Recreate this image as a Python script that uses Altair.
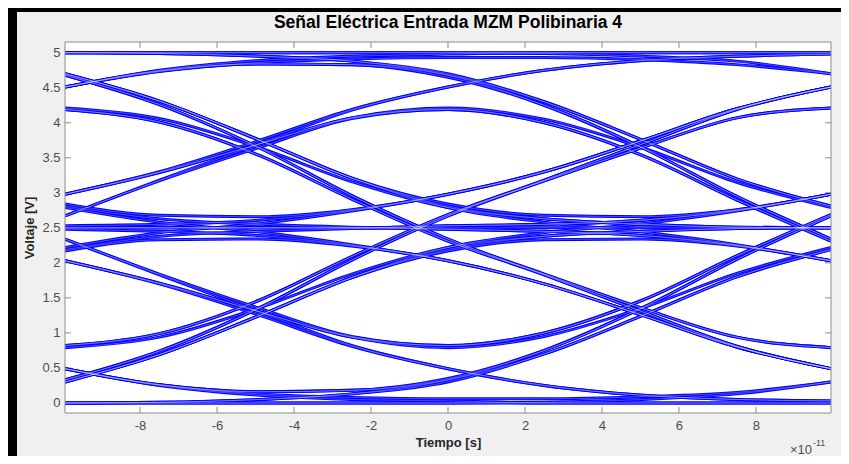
import altair as alt
import pandas as pd

# ---- data ----
title_text = "Señal Eléctrica Entrada MZM Polibinaria 4"
x_title = "Tiempo [s]"
y_title = "Voltaje [V]"
x_ticks = [-8, -6, -4, -2, 0, 2, 4, 6, 8]
y_ticks = [0, 0.5, 1, 1.5, 2, 2.5, 3, 3.5, 4, 4.5, 5]

# time points (x 1e-11 s) at which each trace was read
t_pts = [-9.95, -7.5, -4.89, -2.5, 0, 2.5, 5.06, 7.5, 9.95]

# eye-diagram traces (voltage at each time point)
traces = {
    "b01": [0.00, 0.00, 0.00, 0.00, 0.00, 0.00, 0.00, 0.00, 0.00],
    "b02": [5.00, 5.00, 5.00, 5.00, 5.00, 5.00, 5.00, 5.00, 5.00],
    "b03": [2.50, 2.50, 2.50, 2.50, 2.50, 2.50, 2.50, 2.50, 2.50],
    "b04": [0.00, 0.01, 0.05, 0.13, 0.30, 0.70, 1.25, 1.80, 2.19],
    "b05": [0.00, 0.01, 0.05, 0.13, 0.33, 0.75, 1.36, 2.05, 2.67],
    "b06": [0.30, 0.69, 1.25, 1.79, 2.19, 2.38, 2.45, 2.49, 2.50],
    "b07": [0.30, 0.69, 1.25, 1.79, 2.17, 2.33, 2.34, 2.24, 2.03],
    "b08": [0.30, 0.69, 1.25, 1.79, 2.22, 2.43, 2.56, 2.74, 2.98],
    "b09": [0.33, 0.74, 1.36, 2.04, 2.67, 3.18, 3.70, 4.19, 4.51],
    "b10": [0.82, 0.99, 1.47, 2.09, 2.69, 3.18, 3.70, 4.19, 4.51],
    "b11": [0.79, 0.94, 1.36, 1.84, 2.22, 2.38, 2.45, 2.49, 2.50],
    "b12": [0.49, 0.25, 0.11, 0.05, 0.03, 0.00, 0.00, 0.00, 0.00],
    "b13": [0.49, 0.26, 0.13, 0.08, 0.06, 0.06, 0.09, 0.15, 0.30],
    "b14": [0.00, 0.00, 0.00, 0.00, 0.00, 0.01, 0.05, 0.13, 0.30],
    "b15": [0.49, 0.26, 0.16, 0.18, 0.35, 0.75, 1.36, 2.05, 2.67],
    "b16": [0.49, 0.26, 0.16, 0.18, 0.33, 0.70, 1.25, 1.80, 2.19],
    "b17": [2.03, 1.70, 1.25, 0.81, 0.49, 0.25, 0.11, 0.05, 0.03],
    "b18": [2.34, 1.83, 1.30, 0.82, 0.49, 0.25, 0.11, 0.05, 0.03],
    "b19": [2.03, 1.71, 1.30, 0.94, 0.79, 0.95, 1.36, 1.85, 2.22],
    "b20": [2.34, 1.84, 1.35, 0.95, 0.82, 1.00, 1.47, 2.10, 2.69],
    "b21": [2.48, 2.45, 2.39, 2.25, 2.03, 1.70, 1.25, 0.80, 0.49],
    "b22": [2.17, 2.33, 2.34, 2.24, 2.03, 1.70, 1.25, 0.80, 0.49],
    "b23": [2.79, 2.58, 2.44, 2.26, 2.03, 1.70, 1.25, 0.80, 0.49],
    "b24": [2.50, 2.50, 2.50, 2.50, 2.53, 2.55, 2.61, 2.75, 2.98],
    "b25": [2.50, 2.50, 2.50, 2.50, 2.48, 2.45, 2.39, 2.25, 2.03],
    "b26": [2.19, 2.38, 2.45, 2.49, 2.53, 2.55, 2.61, 2.75, 2.98],
    "b27": [2.81, 2.63, 2.55, 2.51, 2.48, 2.45, 2.39, 2.25, 2.03],
    "b28": [2.53, 2.55, 2.61, 2.75, 2.98, 3.30, 3.75, 4.20, 4.51],
    "b29": [2.22, 2.43, 2.56, 2.74, 2.98, 3.30, 3.75, 4.20, 4.51],
    "b30": [2.84, 2.68, 2.66, 2.76, 2.98, 3.30, 3.75, 4.20, 4.51],
    "b31": [2.98, 3.29, 3.70, 4.07, 4.21, 4.05, 3.64, 3.15, 2.79],
    "b32": [2.67, 3.17, 3.65, 4.06, 4.19, 4.00, 3.53, 2.90, 2.31],
    "b33": [2.98, 3.30, 3.75, 4.19, 4.51, 4.75, 4.89, 4.95, 4.98],
    "b34": [2.67, 3.18, 3.70, 4.18, 4.51, 4.75, 4.89, 4.95, 4.98],
    "b35": [2.98, 3.29, 3.70, 4.07, 4.19, 4.00, 3.53, 2.90, 2.31],
    "b36": [2.03, 1.71, 1.30, 0.94, 0.82, 1.00, 1.47, 2.10, 2.69],
    "b37": [5.00, 5.00, 5.00, 5.00, 5.00, 4.99, 4.95, 4.88, 4.70],
    "b38": [4.51, 4.75, 4.89, 4.95, 4.98, 5.00, 5.00, 5.00, 5.00],
    "b39": [4.51, 4.73, 4.86, 4.91, 4.93, 4.93, 4.90, 4.83, 4.70],
    "b40": [5.00, 4.99, 4.95, 4.88, 4.70, 4.30, 3.75, 3.20, 2.81],
    "b41": [5.00, 4.99, 4.95, 4.88, 4.68, 4.25, 3.64, 2.95, 2.34],
    "b42": [4.51, 4.74, 4.84, 4.83, 4.68, 4.30, 3.75, 3.20, 2.81],
    "b43": [4.70, 4.31, 3.75, 3.21, 2.81, 2.63, 2.55, 2.51, 2.50],
    "b44": [4.70, 4.31, 3.75, 3.21, 2.84, 2.68, 2.66, 2.76, 2.98],
    "b45": [4.68, 4.26, 3.64, 2.96, 2.34, 1.83, 1.30, 0.81, 0.49],
    "b46": [4.21, 4.06, 3.64, 3.16, 2.79, 2.63, 2.55, 2.51, 2.50],
    "b47": [4.19, 4.01, 3.53, 2.91, 2.31, 1.84, 1.35, 0.94, 0.79],
    "b48": [4.19, 4.01, 3.53, 2.91, 2.31, 1.83, 1.30, 0.81, 0.49],
    "b49": [4.68, 4.26, 3.64, 2.96, 2.34, 1.84, 1.35, 0.94, 0.79],
    "b50": [4.51, 4.74, 4.84, 4.83, 4.65, 4.25, 3.64, 2.95, 2.34],
    "b51": [4.70, 4.31, 3.75, 3.21, 2.79, 2.58, 2.44, 2.26, 2.03],
    "b52": [0.82, 0.99, 1.47, 2.09, 2.69, 3.17, 3.65, 4.07, 4.21],
    "b53": [0.33, 0.74, 1.36, 2.04, 2.67, 3.17, 3.65, 4.07, 4.21],
}

rows = []
for name, vals in traces.items():
    for t, v in zip(t_pts, vals):
        rows.append({"trace": name, "t": t, "v": v})
df = pd.DataFrame(rows)

W, H = 766, 371
FONT = "Liberation Sans"
xs = alt.Scale(domain=[-9.95, 9.95], nice=False, zero=False)
ys = alt.Scale(domain=[-0.143, 5.153], nice=False, zero=False)
one = pd.DataFrame({"a": [0]})

x_axis = alt.Axis(
    values=x_ticks, labelExpr="'' + datum.value", title=x_title,
    grid=False, domain=False, ticks=False, tickSize=0, zindex=2,
    labelPadding=6, titlePadding=4,
    labelFontSize=13, titleFontSize=13, titleFontWeight="bold",
    labelColor="#4d4d4d", titleColor="#262626")
y_axis = alt.Axis(
    values=y_ticks, format="~g", title=y_title,
    grid=False, domain=False, ticks=False, tickSize=0, zindex=2,
    labelPadding=5, titlePadding=5,
    labelFontSize=13, titleFontSize=13, titleFontWeight="bold",
    labelColor="#4d4d4d", titleColor="#262626")

# figure background (grey) and white axes box
bg = alt.Chart(one).mark_rect(color="#f0f0f0").encode(
    x=alt.value(-48), x2=alt.value(776), y=alt.value(-30), y2=alt.value(414))
plotbg = alt.Chart(one).mark_rect(color="white").encode(
    x=alt.value(0), x2=alt.value(W), y=alt.value(0), y2=alt.value(H))

# inward ticks on all four sides
xt_df = pd.DataFrame({"t": x_ticks})
yt_df = pd.DataFrame({"v": y_ticks})
tick_col = "#8c8c8c"
xt_bot = alt.Chart(xt_df).mark_rule(color=tick_col, strokeWidth=1).encode(
    x=alt.X("t:Q", scale=xs, axis=x_axis), y=alt.value(H), y2=alt.value(H - 6))
xt_top = alt.Chart(xt_df).mark_rule(color=tick_col, strokeWidth=1).encode(
    x=alt.X("t:Q", scale=xs, axis=x_axis), y=alt.value(0), y2=alt.value(6))
yt_left = alt.Chart(yt_df).mark_rule(color=tick_col, strokeWidth=1).encode(
    y=alt.Y("v:Q", scale=ys, axis=y_axis), x=alt.value(0), x2=alt.value(6))
yt_right = alt.Chart(yt_df).mark_rule(color=tick_col, strokeWidth=1).encode(
    y=alt.Y("v:Q", scale=ys, axis=y_axis), x=alt.value(W), x2=alt.value(W - 6))

lines = alt.Chart(df).mark_line(
    color="#0000ff", strokeWidth=3.0, interpolate="monotone", clip=True
).encode(
    x=alt.X("t:Q", scale=xs, axis=x_axis),
    y=alt.Y("v:Q", scale=ys, axis=y_axis),
    detail="trace:N",
)
lines_in = alt.Chart(df).mark_line(
    color="#ffffff", strokeWidth=0.7, opacity=0.4, interpolate="monotone", clip=True
).encode(
    x=alt.X("t:Q", scale=xs, axis=x_axis),
    y=alt.Y("v:Q", scale=ys, axis=y_axis),
    detail="trace:N",
)

box = alt.Chart(one).mark_rect(filled=False, stroke="#8c8c8c", strokeWidth=1).encode(
    x=alt.value(0), x2=alt.value(W), y=alt.value(0), y2=alt.value(H))

title = alt.Chart(one).mark_text(
    font=FONT, fontSize=17.5, fontWeight="bold", color="#000000",
    align="center", baseline="alphabetic"
).encode(x=alt.value(W / 2), y=alt.value(-14), text=alt.value(title_text))

exp_base = alt.Chart(one).mark_text(
    font=FONT, fontSize=13, color="#4d4d4d", align="left", baseline="alphabetic"
).encode(x=alt.value(725), y=alt.value(412), text=alt.value("×10"))
exp_pow = alt.Chart(one).mark_text(
    font=FONT, fontSize=9, color="#4d4d4d", align="left", baseline="alphabetic"
).encode(x=alt.value(748), y=alt.value(404), text=alt.value("-11"))

chart = alt.layer(
    bg, plotbg, xt_bot, xt_top, yt_left, yt_right, lines, lines_in, box,
    title, exp_base, exp_pow
).properties(
    width=W, height=H,
    padding={"left": 57, "top": 34, "right": 10, "bottom": 43},
    autosize=alt.AutoSizeParams(type="none"),
).configure(
    background="black", font=FONT
).configure_view(
    strokeWidth=0
).configure_axis(
    labelFont=FONT, titleFont=FONT
)

chart.save("out.html", embed_options={"renderer": "svg", "actions": False})
